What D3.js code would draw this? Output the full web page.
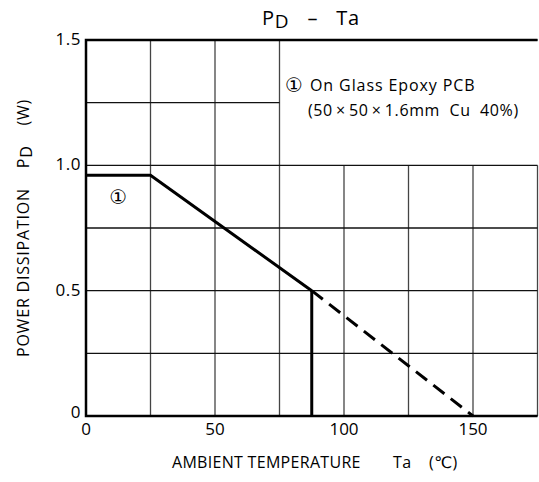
<!DOCTYPE html>
<html>
<head>
<meta charset="utf-8">
<script src="https://cdn.jsdelivr.net/npm/d3@7"></script>
<style>
  body { margin: 0; background: #fff; }
  svg text { font-family: "Open Sans", "DejaVu Sans", sans-serif; fill: #000; }
</style>
</head>
<body>
<svg id="chart" width="539" height="482"></svg>
<script>
// data
var xTicks = [0, 50, 100, 150];
var yTicks = [0, 0.5, 1.0, 1.5];
var yTickLabels = ["0", "0.5", "1.0", "1.5"];
var xGrid = [0, 25, 50, 75, 100, 125, 150, 175];
var yGrid = [0, 0.25, 0.5, 0.75, 1.0, 1.25, 1.5];
var solidTa = [0, 25, 87.5];
var solidPd = [0.96, 0.96, 0.5];
var dashTa = [87.5, 150];
var dashPd = [0.5, 0];
var cutoffTa = [87.5, 87.5];
var cutoffPd = [0.5, 0];
var noteMark = "\u2460";
var noteLines = ["On Glass Epoxy PCB", "(50\u2009\u00d7\u200950\u2009\u00d7\u20091.6mm  Cu  40%)"];
var xTitleParts = ["AMBIENT TEMPERATURE", "Ta", "(\u2103)"];

var svg = d3.select("#chart");

const x = d3.scaleLinear().domain([0, 175]).range([86, 537.5]);
const y = d3.scaleLinear().domain([0, 1.5]).range([416, 40]);

/** grid - the note box area (x > 75, y > 1.0) is kept clear */
svg.selectAll(".vgrid").data(xGrid).join("line")
  .attr("class", "vgrid")
  .attr("x1", d => x(d)).attr("x2", d => x(d))
  .attr("y1", y(0))
  .attr("y2", d => d > 75 ? y(1.0) : y(1.5))
  .attr("stroke", "#444")
  .attr("stroke-width", 1.3);

svg.selectAll(".hgrid").data(yGrid).join("line")
  .attr("class", "hgrid")
  .attr("x1", x(0))
  .attr("x2", d => d > 1.0 && d < 1.5 ? x(75) : x(175))
  .attr("y1", d => y(d)).attr("y2", d => y(d))
  .attr("stroke", "#111")
  .attr("stroke-width", 1.3);

// frame: heavy on left, bottom and top
svg.append("path")
  .attr("d", `M${x(175)},${y(1.5)}H${x(0)}V${y(0)}H${x(175)}`)
  .attr("fill", "none")
  .attr("stroke", "#000")
  .attr("stroke-width", 2.5);

/** tick labels */
svg.selectAll(".xtick").data(xTicks).join("text")
  .attr("class", "xtick")
  .attr("x", d => x(d))
  .attr("y", y(0) + 19)
  .attr("text-anchor", "middle")
  .attr("font-size", 17)
  .text(d => d);

svg.selectAll(".ytick").data(yTicks).join("text")
  .attr("class", "ytick")
  .attr("x", x(0) - 5)
  .attr("y", d => y(d) + (d === 0 ? 2 : 5))
  .attr("text-anchor", "end")
  .attr("font-size", 17)
  .attr("letter-spacing", 0.5)
  .text((d, i) => yTickLabels[i]);

/** curves */
const line = d3.line().x(d => x(d[0])).y(d => y(d[1]));

svg.append("path")
  .datum(d3.zip(solidTa, solidPd))
  .attr("fill", "none")
  .attr("stroke", "#000")
  .attr("stroke-width", 3)
  .attr("d", line);

svg.append("path")
  .datum(d3.zip(cutoffTa, cutoffPd))
  .attr("fill", "none")
  .attr("stroke", "#000")
  .attr("stroke-width", 3)
  .attr("d", line);

svg.append("path")
  .datum(d3.zip(dashTa, dashPd))
  .attr("fill", "none")
  .attr("stroke", "#000")
  .attr("stroke-width", 3)
  .attr("stroke-dasharray", "14,8")
  .attr("d", line);

/** labels */
svg.append("text")
  .attr("x", x(12.5))
  .attr("y", y(0.875) + 7)
  .attr("text-anchor", "middle")
  .attr("font-family", "DejaVu Sans")
  .attr("font-size", 20)
  .text(noteMark);

svg.append("text")
  .attr("x", 285)
  .attr("y", 92)
  .attr("font-family", "DejaVu Sans")
  .attr("font-size", 20)
  .text(noteMark);

svg.selectAll(".note").data(noteLines).join("text")
  .attr("class", "note")
  .attr("x", (d, i) => i === 0 ? 310 : 308)
  .attr("y", (d, i) => 91 + i * 25)
  .attr("font-size", 16)
  .attr("letter-spacing", (d, i) => i === 0 ? 0.9 : 0.6)
  .attr("xml:space", "preserve")
  .text(d => d);

// title
var title = svg.append("text")
  .attr("x", 311)
  .attr("y", 25)
  .attr("text-anchor", "middle")
  .attr("font-size", 20)
  .attr("letter-spacing", 0.8)
  .attr("xml:space", "preserve");
title.append("tspan").text("P");
title.append("tspan").attr("dy", 3).attr("font-size", 19).text("D");
title.append("tspan").attr("dy", -3).text("   \u2013   Ta");

// axis titles
svg.selectAll(".xtitle").data(xTitleParts).join("text")
  .attr("class", "xtitle")
  .attr("x", (d, i) => [172, 393, 429][i])
  .attr("y", 468)
  .attr("font-size", 16)
  .attr("letter-spacing", (d, i) => i === 0 ? 0.3 : 0.4)
  .text(d => d);

var ylab = svg.append("text")
  .attr("transform", "translate(29,228) rotate(-90)")
  .attr("text-anchor", "middle")
  .attr("font-size", 16)
  .attr("letter-spacing", 0.8)
  .attr("xml:space", "preserve");
ylab.append("tspan").text("POWER DISSIPATION    P");
ylab.append("tspan").attr("dy", 3).text("D");
ylab.append("tspan").attr("dy", -3).text("    (W)");
</script>
</body>
</html>
